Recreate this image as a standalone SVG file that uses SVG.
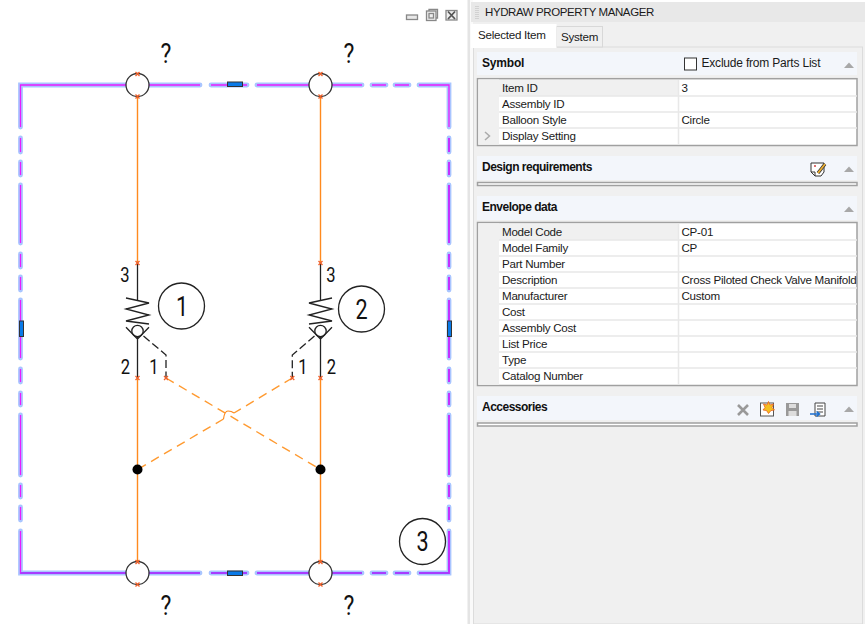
<svg xmlns="http://www.w3.org/2000/svg" width="865" height="624" viewBox="0 0 865 624">
<defs>
<style>
text{font-family:"Liberation Sans",Arial,sans-serif;font-size:11.6px;letter-spacing:-.25px;fill:#1a1a1a}
.cad{font-family:"Roboto","Liberation Sans",sans-serif;font-weight:400;fill:#111;text-anchor:middle;letter-spacing:0}
.n20{font-size:19.5px}.n28{font-size:27px}
.h{font-weight:bold;fill:#111;font-size:12px;letter-spacing:-.5px}
.hb{fill:#f3f6fb}
.box{fill:#fff;stroke:#a0a0a0;stroke-width:1.5}
.gut{fill:#f0f0f0}
.sep{stroke:#e8e8e8;stroke-width:1.5;fill:none}
.halo{fill:none;stroke:#8cb2ff;stroke-width:4.800;stroke-linecap:round;opacity:.75}
.mag{fill:none;stroke:#e81cff;stroke-width:1.300}
.pur{fill:none;stroke:#a83cff;stroke-width:1.800}
.or{fill:none;stroke:#ff8a1e;stroke-width:1.4}
.ord{fill:none;stroke:#ff9a30;stroke-width:1.400;stroke-dasharray:9 6}
.blk{fill:none;stroke:#222;stroke-width:1.300}
.pil{fill:none;stroke:#222;stroke-width:1.300;stroke-dasharray:8 3.500}
.bal{fill:none;stroke:#222;stroke-width:1.300}
.port{fill:#fff;stroke:#333;stroke-width:1.300}
.grip{fill:#0a7ae8;stroke:#333;stroke-width:1}
.x{stroke:#f0602a;stroke-width:1.300;fill:none}
.tri{fill:#a8a8a8}
</style>
<path id="mk" class="x" d="M-2-2L2 2M2-2L-2 2"/>
<path id="tr" class="tri" d="M-5 3L0-2.500L5 3Z"/>
<g id="valve">
<path class="blk" d="M0-68V-30.500"/>
<path class="blk" d="M-11.500-33L11.500-28L-11.500-22L11.500-16L-11.500-10L11.500-7"/>
<circle class="blk" cx="0" cy="0" r="5.700"/>
<path class="blk" d="M-11.500-3.700L0 8L11.500-3.700M0 5.700V47"/>
</g>
</defs>
<rect width="865" height="624" fill="#fff"/>

<g id="frame">
<path class="halo" d="M20.500 127V85H200M211 85H247M257 85H362M372 85H386M395 85H409M419 85H449V127M20.500 138V152M20.500 162V175M20.500 185V243M20.500 254V267M20.500 277V290M20.500 300V358M20.500 369V382M20.500 393V405M20.500 415V475M20.500 485V497M20.500 507V520M20.500 531V573H200M211 573H247M257 573H362M372 573H386M395 573H409M419 573H449V531M449 138V152M449 162V175M449 185V243M449 254V267M449 277V290M449 300V358M449 369V382M449 393V405M449 415V475M449 485V497M449 507V520"/>
<path class="mag" d="M20.500 127V85H200M211 85H247M257 85H362M372 85H386M395 85H409M419 85H449V127M20.500 138V152M20.500 162V175M20.500 185V243M20.500 254V267M20.500 277V290M20.500 300V358M20.500 369V382M20.500 393V405M20.500 415V475M20.500 485V497M20.500 507V520M20.500 531V574"/>
<path class="mag" style="stroke:#c430ff;stroke-width:2" d="M449 138V152M449 162V175M449 185V243M449 254V267M449 277V290M449 300V358M449 369V382M449 393V405M449 415V475M449 485V497M449 507V520M449 531V574"/>
<path class="pur" d="M20.500 573H200M211 573H247M257 573H362M372 573H386M395 573H409M419 573H449"/>
<rect class="grip" x="227.500" y="82" width="15" height="4.500"/>
<rect class="grip" x="227.500" y="571" width="15" height="4.500"/>
<rect class="grip" x="19.500" y="321" width="4" height="15.500"/>
<rect class="grip" x="447.500" y="321" width="4" height="15.500"/>
</g>

<g id="connectors">
<path class="or" d="M137.500 97V263M320.500 97V263M137.500 378V561.500M320.500 378V561.500"/>
<path class="ord" d="M166 378L320.500 469.500"/>
<path class="ord" d="M292.300 378L234 413M223.500 419L137.500 469.500"/>
<path class="or" style="stroke-width:1.200" d="M223.500 419Q224.500 411 228 411Q231.500 411 234 413"/>
</g>

<g id="port-top-1"><circle class="port" cx="137.500" cy="85" r="11.500"/><use href="#mk" x="137.500" y="74"/><use href="#mk" x="137.500" y="96.500"/><text class="cad n28" transform="translate(166 63) scale(.85 1)">?</text></g>
<g id="port-top-2"><circle class="port" cx="320.500" cy="85" r="11.500"/><use href="#mk" x="320.500" y="74"/><use href="#mk" x="320.500" y="96.500"/><text class="cad n28" transform="translate(349 63) scale(.85 1)">?</text></g>
<g id="port-bottom-1"><circle class="port" cx="137.500" cy="573" r="11.500"/><use href="#mk" x="137.500" y="562"/><use href="#mk" x="137.500" y="584.500"/><text class="cad n28" transform="translate(166 615) scale(.85 1)">?</text></g>
<g id="port-bottom-2"><circle class="port" cx="320.500" cy="573" r="11.500"/><use href="#mk" x="320.500" y="562"/><use href="#mk" x="320.500" y="584.500"/><text class="cad n28" transform="translate(349 615) scale(.85 1)">?</text></g>

<g id="junction-1"><circle cx="137.500" cy="469.500" r="5" fill="#000"/></g>
<g id="junction-2"><circle cx="320.500" cy="469.500" r="5" fill="#000"/></g>

<g id="valve-1">
<use href="#valve" x="137.500" y="331"/>
<path class="pil" d="M143.500 336L166 355V378"/>
<use href="#mk" x="137.500" y="263"/><use href="#mk" x="137.500" y="378"/><use href="#mk" x="166" y="378"/>
<text class="cad n20" transform="translate(125 282) scale(.85 1)">3</text><text class="cad n20" transform="translate(125.500 374) scale(.85 1)">2</text><text class="cad n20" transform="translate(154 374) scale(.85 1)">1</text>
</g>
<g id="valve-2">
<use href="#valve" transform="translate(320.500 331) scale(-1 1)"/>
<path class="pil" d="M314.500 336L292.300 355V378"/>
<use href="#mk" x="320.500" y="263"/><use href="#mk" x="320.500" y="378"/><use href="#mk" x="292.300" y="378"/>
<text class="cad n20" transform="translate(331 282) scale(.85 1)">3</text><text class="cad n20" transform="translate(303 374) scale(.85 1)">1</text><text class="cad n20" transform="translate(331.500 374) scale(.85 1)">2</text>
</g>

<g id="balloon-1"><circle class="bal" cx="181.500" cy="306" r="23"/><text class="cad n28" transform="translate(182 315.500) scale(.8 1)">1</text></g>
<g id="balloon-2"><circle class="bal" cx="361.500" cy="309" r="23"/><text class="cad n28" transform="translate(361.500 318.500) scale(.8 1)">2</text></g>
<g id="balloon-3"><circle class="bal" cx="422.500" cy="541.500" r="23"/><text class="cad n28" transform="translate(422.500 551) scale(.8 1)">3</text></g>

<g id="window-buttons" fill="none" stroke="#888" stroke-width="1.300">
<rect x="406.500" y="15" width="11" height="4.500" fill="#e8e8e8"/>
<rect x="426.500" y="11" width="9.500" height="9.500" fill="#eee"/><rect x="429" y="13.500" width="4.500" height="4.500"/><path d="M429 11V9.500H437.500V18H436"/>
<rect x="446" y="10.500" width="11" height="9.500" fill="#eee"/><path d="M448 11.500L455 19M455 11.500L448 19" stroke="#555" stroke-width="1.800"/>
</g>

<g id="panel">
<rect x="467.500" y="0" width="2.500" height="624" fill="#e4e4e4"/>
<rect x="470" y="0" width="3" height="624" fill="#fafafa"/>
<rect x="473" y="2" width="392" height="622" fill="#f0f0f0"/>
<rect x="471" y="2" width="394" height="20" fill="#e8e8e8"/>
<path d="M476 6V20M478 6V20" stroke="#bbb" stroke-width="1" stroke-dasharray="1 1" fill="none"/>
<text x="485" y="15.500" style="font-size:11.500px;letter-spacing:-.4px">HYDRAW PROPERTY MANAGER</text>
</g>

<g id="tabs">
<rect x="473.500" y="47" width="389" height="577" fill="#f0f0f0" stroke="#dcdcdc" stroke-width="1"/>
<rect x="556.500" y="26.500" width="46" height="20.500" fill="#f0f0f0" stroke="#d8d8d8"/>
<rect x="471" y="24" width="85.500" height="24" fill="#fff"/>
<text x="478" y="39">Selected Item</text>
<text x="561" y="41">System</text>
</g>

<g id="section-symbol">
<rect class="hb" x="477" y="52" width="380" height="23"/>
<text class="h" x="482" y="67" style="letter-spacing:-.2px">Symbol</text>
<rect x="684.500" y="58" width="12" height="12" fill="#fff" stroke="#333"/>
<text x="701.500" y="67" style="font-size:12px;letter-spacing:-.2px">Exclude from Parts List</text>
<use href="#tr" x="849" y="65"/>
<rect class="box" x="477.500" y="78.700" width="379.500" height="66.800"/>
<rect class="gut" x="478.300" y="79.500" width="20.700" height="65.200"/>
<rect class="gut" x="499" y="80" width="179" height="16"/>
<path class="sep" d="M499 96H857M499 112H857M499 128H857M678.500 80V144.500"/>
<path d="M485 132L489.500 136L485 140" fill="none" stroke="#aaa" stroke-width="1.500"/>
<text x="502" y="92">Item ID</text><text x="681.500" y="92">3</text>
<text x="502" y="108">Assembly ID</text>
<text x="502" y="124">Balloon Style</text><text x="681.500" y="124">Circle</text>
<text x="502" y="140">Display Setting</text>
</g>

<g id="section-design">
<rect class="hb" x="477" y="156" width="380" height="24"/>
<text class="h" x="482" y="171">Design requirements</text>
<path d="M811 163H824V172L821 176H815L811 172Z" fill="#fff" stroke="#333"/>
<path d="M815 176V172H811" fill="none" stroke="#333"/>
<path d="M818 173L825 164" stroke="#333" stroke-width="3.200" fill="none"/>
<path d="M818 173L825 164" stroke="#f0b030" stroke-width="1.800" fill="none"/>
<circle cx="815" cy="166" r="1" fill="#d04040"/>
<use href="#tr" x="849" y="169"/>
<rect class="box" x="477.500" y="182.500" width="379.500" height="3"/>
</g>

<g id="section-envelope">
<rect class="hb" x="477" y="196" width="380" height="24"/>
<text class="h" x="482" y="211">Envelope data</text>
<use href="#tr" x="849" y="209"/>
<rect class="box" x="477.500" y="222.500" width="379.500" height="163"/>
<rect class="gut" x="478.300" y="223.300" width="20.700" height="161.500"/>
<rect class="gut" x="499" y="224" width="179" height="16"/>
<path class="sep" d="M499 240H857M499 256H857M499 272H857M499 288H857M499 304H857M499 320H857M499 336H857M499 352H857M499 368H857M678.500 224V384.500"/>
<text x="502" y="236">Model Code</text><text x="681.500" y="236">CP-01</text>
<text x="502" y="252">Model Family</text><text x="681.500" y="252">CP</text>
<text x="502" y="268">Part Number</text>
<text x="502" y="284">Description</text><text x="681.500" y="284">Cross Piloted Check Valve Manifold</text>
<text x="502" y="300">Manufacturer</text><text x="681.500" y="300">Custom</text>
<text x="502" y="316">Cost</text>
<text x="502" y="332">Assembly Cost</text>
<text x="502" y="348">List Price</text>
<text x="502" y="364">Type</text>
<text x="502" y="380">Catalog Number</text>
</g>

<g id="section-accessories">
<rect class="hb" x="477" y="396" width="380" height="24"/>
<text class="h" x="482" y="411">Accessories</text>
<path d="M738 405L748 415M748 405L738 415" stroke="#999" stroke-width="2.600" fill="none"/>
<rect x="760.500" y="403" width="13" height="13" fill="#fff" stroke="#555"/>
<path d="M768.500 401.500L770 405L773.500 404L772 407.500L774.500 410L771 410.500L768.500 413.500L766.500 410.500L763 410L765 407.500L763.500 404L767 405Z" fill="#f4c020" stroke="#e86020" stroke-width=".8"/>
<path d="M786 403H799V416H786Z" fill="#999"/><rect x="789" y="404" width="7" height="4" fill="#ddd"/><rect x="788.500" y="411" width="8" height="5" fill="#ddd"/>
<path d="M815 403H825V416H815Z" fill="#fff" stroke="#444"/><path d="M817 406H823M817 409H823M817 412H823" stroke="#444"/>
<path d="M810 414H819M816.500 411.500L819.500 414L816.500 416.500" stroke="#1a6ed0" stroke-width="1.500" fill="none"/>
<use href="#tr" x="849" y="409"/>
<rect class="box" x="477.500" y="423" width="379.500" height="3"/>
</g>
</svg>
